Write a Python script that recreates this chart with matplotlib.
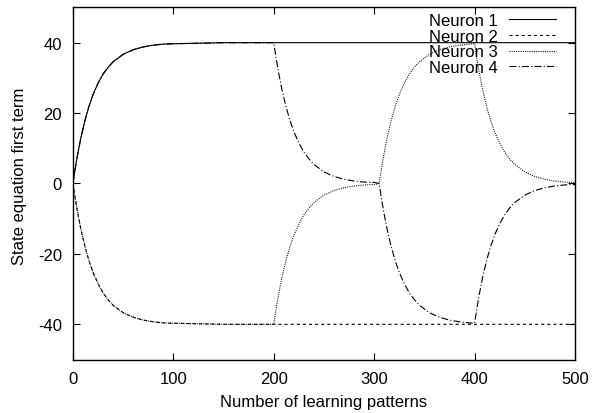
import matplotlib
matplotlib.use("Agg")
import matplotlib.pyplot as plt

plt.rcParams['font.family'] = ['Liberation Sans', 'DejaVu Sans']
plt.rcParams['lines.scale_dashes'] = False
plt.rcParams['axes.unicode_minus'] = False

# sample positions (number of learning patterns)
x = [0, 1, 3, 5, 8, 12, 16, 20, 25, 30, 35, 40, 50, 60, 70, 80, 90, 100, 150,
     200, 201, 203, 205, 208, 212, 216, 220, 225, 230, 235, 240, 250, 260, 270, 280, 290, 300,
     305, 306, 308, 310, 313, 317, 321, 325, 330, 335, 340, 345, 355, 365, 375, 385, 395,
     400, 401, 403, 405, 408, 412, 416, 420, 425, 430, 435, 440, 450, 460, 470, 480, 490, 500]

# values, segment by segment
rise0 = [0, 2.0, 5.6, 8.8, 13.2, 18.0, 22.0, 25.3, 28.5, 31.1, 33.0, 34.6, 36.7, 38.0, 38.8, 39.3, 39.6, 39.7, 40.0]
fall1 = [40, 38.0, 34.4, 31.2, 26.8, 22.0, 18.0, 14.7, 11.5, 8.9, 7.0, 5.4, 3.3, 2.0, 1.2, 0.7, 0.4, 0.3]
rise2 = [0, 2.0, 5.6, 8.8, 13.2, 18.0, 22.0, 25.3, 28.5, 31.1, 33.0, 34.6, 36.7, 38.0, 38.8, 39.3, 39.6]
fall3 = [39.7, 37.8, 34.2, 31.0, 26.6, 21.8, 17.9, 14.6, 11.4, 8.9, 6.9, 5.4, 3.3, 2.0, 1.2, 0.7, 0.4, 0.3]

neuron1 = rise0 + [40] * 53
neuron2 = [-v for v in rise0] + [-40] * 53
neuron3 = [-v for v in rise0] + [-v for v in fall1] + rise2 + fall3
neuron4 = rise0 + fall1 + [-v for v in rise2] + [-v for v in fall3]

fig = plt.figure(figsize=(5.92, 4.14), dpi=100)
ax = fig.add_axes([0.1233, 0.1292, 0.848, 0.8503])

lw = 0.8
ax.plot(x, neuron1, color='black', lw=lw, label='Neuron 1')
ax.plot(x, neuron2, color='black', lw=lw, dashes=(2.2, 2.2), label='Neuron 2')
ax.plot(x, neuron3, color='black', lw=lw, dashes=(0.7, 0.9), label='Neuron 3')
ax.plot(x, neuron4, color='black', lw=lw, dashes=(5, 1.6, 0.8, 1.6), label='Neuron 4')

ax.set_xlim(0, 500)
ax.set_ylim(-50, 50)
ax.set_xticks([0, 100, 200, 300, 400, 500])
ax.set_yticks([-40, -20, 0, 20, 40])
ax.tick_params(direction='in', length=5, width=0.8, top=True, right=True, labelsize=12, pad=8)
for s in ax.spines.values():
    s.set_linewidth(1.0)

ax.set_xlabel('Number of learning patterns', fontsize=12, labelpad=6)
fig.text(20 / 592, 1 - 176 / 414, 'State equation first term', fontsize=12,
         rotation=90, ha='center', va='center')

ax.legend(loc='upper right', bbox_to_anchor=(0.962, 0.985), frameon=False, fontsize=12,
          markerfirst=False, handlelength=2.8, handletextpad=0.7, labelspacing=0.05,
          borderpad=0, borderaxespad=0)

fig.savefig('out.png', dpi=100)
